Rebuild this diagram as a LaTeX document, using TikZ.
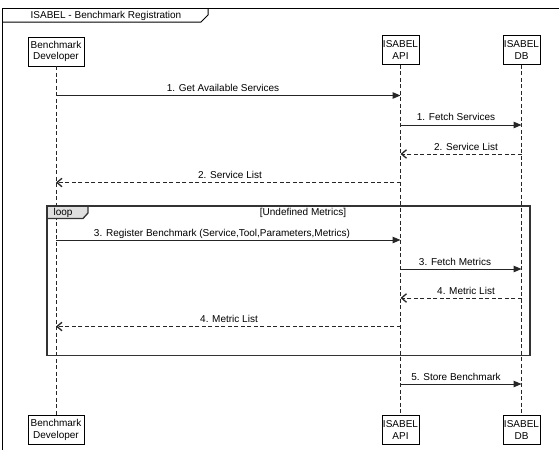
\documentclass[tikz,border=0pt]{standalone}
\usepackage{fontspec}
\setmainfont{Liberation Sans}
\usetikzlibrary{arrows.meta}
\begin{document}
\begin{tikzpicture}[x=1pt,y=-1pt,
  every node/.style={font=\fontsize{10}{11.5}\selectfont},
  actor/.style={draw=black, line width=0.9pt, fill=white, align=center, inner xsep=1pt, inner ysep=1pt, minimum height=29pt, minimum width=37pt},
  lifeline/.style={draw=black!85, line width=1pt, dash pattern=on 4pt off 2.5pt},
  msg/.style={draw=black!85, line width=1pt, -{Triangle[length=8pt,width=6.5pt]}},
  ret/.style={draw=black!85, line width=1pt, dash pattern=on 4pt off 2.5pt, -{Straight Barb[length=5pt,width=8.5pt,line width=1.3pt]}},
  lbl/.style={inner sep=0pt, anchor=base},
  frameline/.style={draw=black, line width=1pt},
]
\fill[white] (0,0) rectangle (559,450);
\useasboundingbox (0,0) rectangle (559,450);

% outer frame
\draw[frameline] (559,8) -- (2,8) -- (2,450);
\draw[frameline] (2,22) -- (201,22) -- (208,15) -- (208,8);
\node[lbl] (title) at (106,18.5) {ISABEL - Benchmark Registration};

% actors
\node[actor, minimum width=56pt] (devtop) at (56,51.5) {Benchmark\\Developer};
\node[actor] (apitop) at (400.5,50) {ISABEL\\API};
\node[actor] (dbtop) at (521.5,50) {ISABEL\\DB};
\node[actor, minimum width=56pt] (devbot) at (56,430) {Benchmark\\Developer};
\node[actor] (apibot) at (400.5,430) {ISABEL\\API};
\node[actor] (dbbot) at (521.5,430) {ISABEL\\DB};

% lifelines
\draw[lifeline] (devtop) -- (devbot);
\draw[lifeline] (apitop) -- (apibot);
\draw[lifeline] (dbtop) -- (dbbot);

% loop frame
\draw[draw=black!80, line width=1.3pt, fill=black!12] (47,206) -- (88,206) -- (88,213) -- (83,218.5) -- (47,218.5) -- cycle;
\draw[draw=black!80, line width=1.3pt] (47,206) rectangle (530,355.5);
\node[lbl] (looplbl) at (63,215) {loop};
\node[lbl] (guard) at (303,215) {[Undefined Metrics]};

% message endpoints
\coordinate (d1) at (56,95.5);   \coordinate (a1) at (400.5,95.5);
\coordinate (a2) at (400.5,125); \coordinate (b2) at (521.5,125);
\coordinate (b3) at (521.5,154); \coordinate (a3) at (400.5,154);
\coordinate (a4) at (400.5,182.5); \coordinate (d4) at (56,182.5);
\coordinate (d5) at (56,240);    \coordinate (a5) at (400.5,240);
\coordinate (a6) at (400.5,269); \coordinate (b6) at (521.5,269);
\coordinate (b7) at (521.5,298); \coordinate (a7) at (400.5,298);
\coordinate (a8) at (400.5,326.5); \coordinate (d8) at (56,326.5);
\coordinate (a9) at (400.5,384); \coordinate (b9) at (521.5,384);

\draw[msg] (d1) -- (a1);
\node[lbl] (m1) at (223,91.5) {1. Get Available Services};
\draw[msg] (a2) -- (b2);
\node[lbl] (m2) at (456,120.5) {1. Fetch Services};
\draw[ret] (b3) -- (a3);
\node[lbl] (m3) at (466,150) {2. Service List};
\draw[ret] (a4) -- (d4);
\node[lbl] (m4) at (230,178.5) {2. Service List};
\draw[msg] (d5) -- (a5);
\node[lbl] (m5) at (222,236) {3. Register Benchmark (Service,Tool,Parameters,Metrics)};
\draw[msg] (a6) -- (b6);
\node[lbl] (m6) at (455,265) {3. Fetch Metrics};
\draw[ret] (b7) -- (a7);
\node[lbl] (m7) at (466,294) {4. Metric List};
\draw[ret] (a8) -- (d8);
\node[lbl] (m8) at (229,322.5) {4. Metric List};
\draw[msg] (a9) -- (b9);
\node[lbl] (m9) at (456,380) {5. Store Benchmark};
\end{tikzpicture}
\end{document}
